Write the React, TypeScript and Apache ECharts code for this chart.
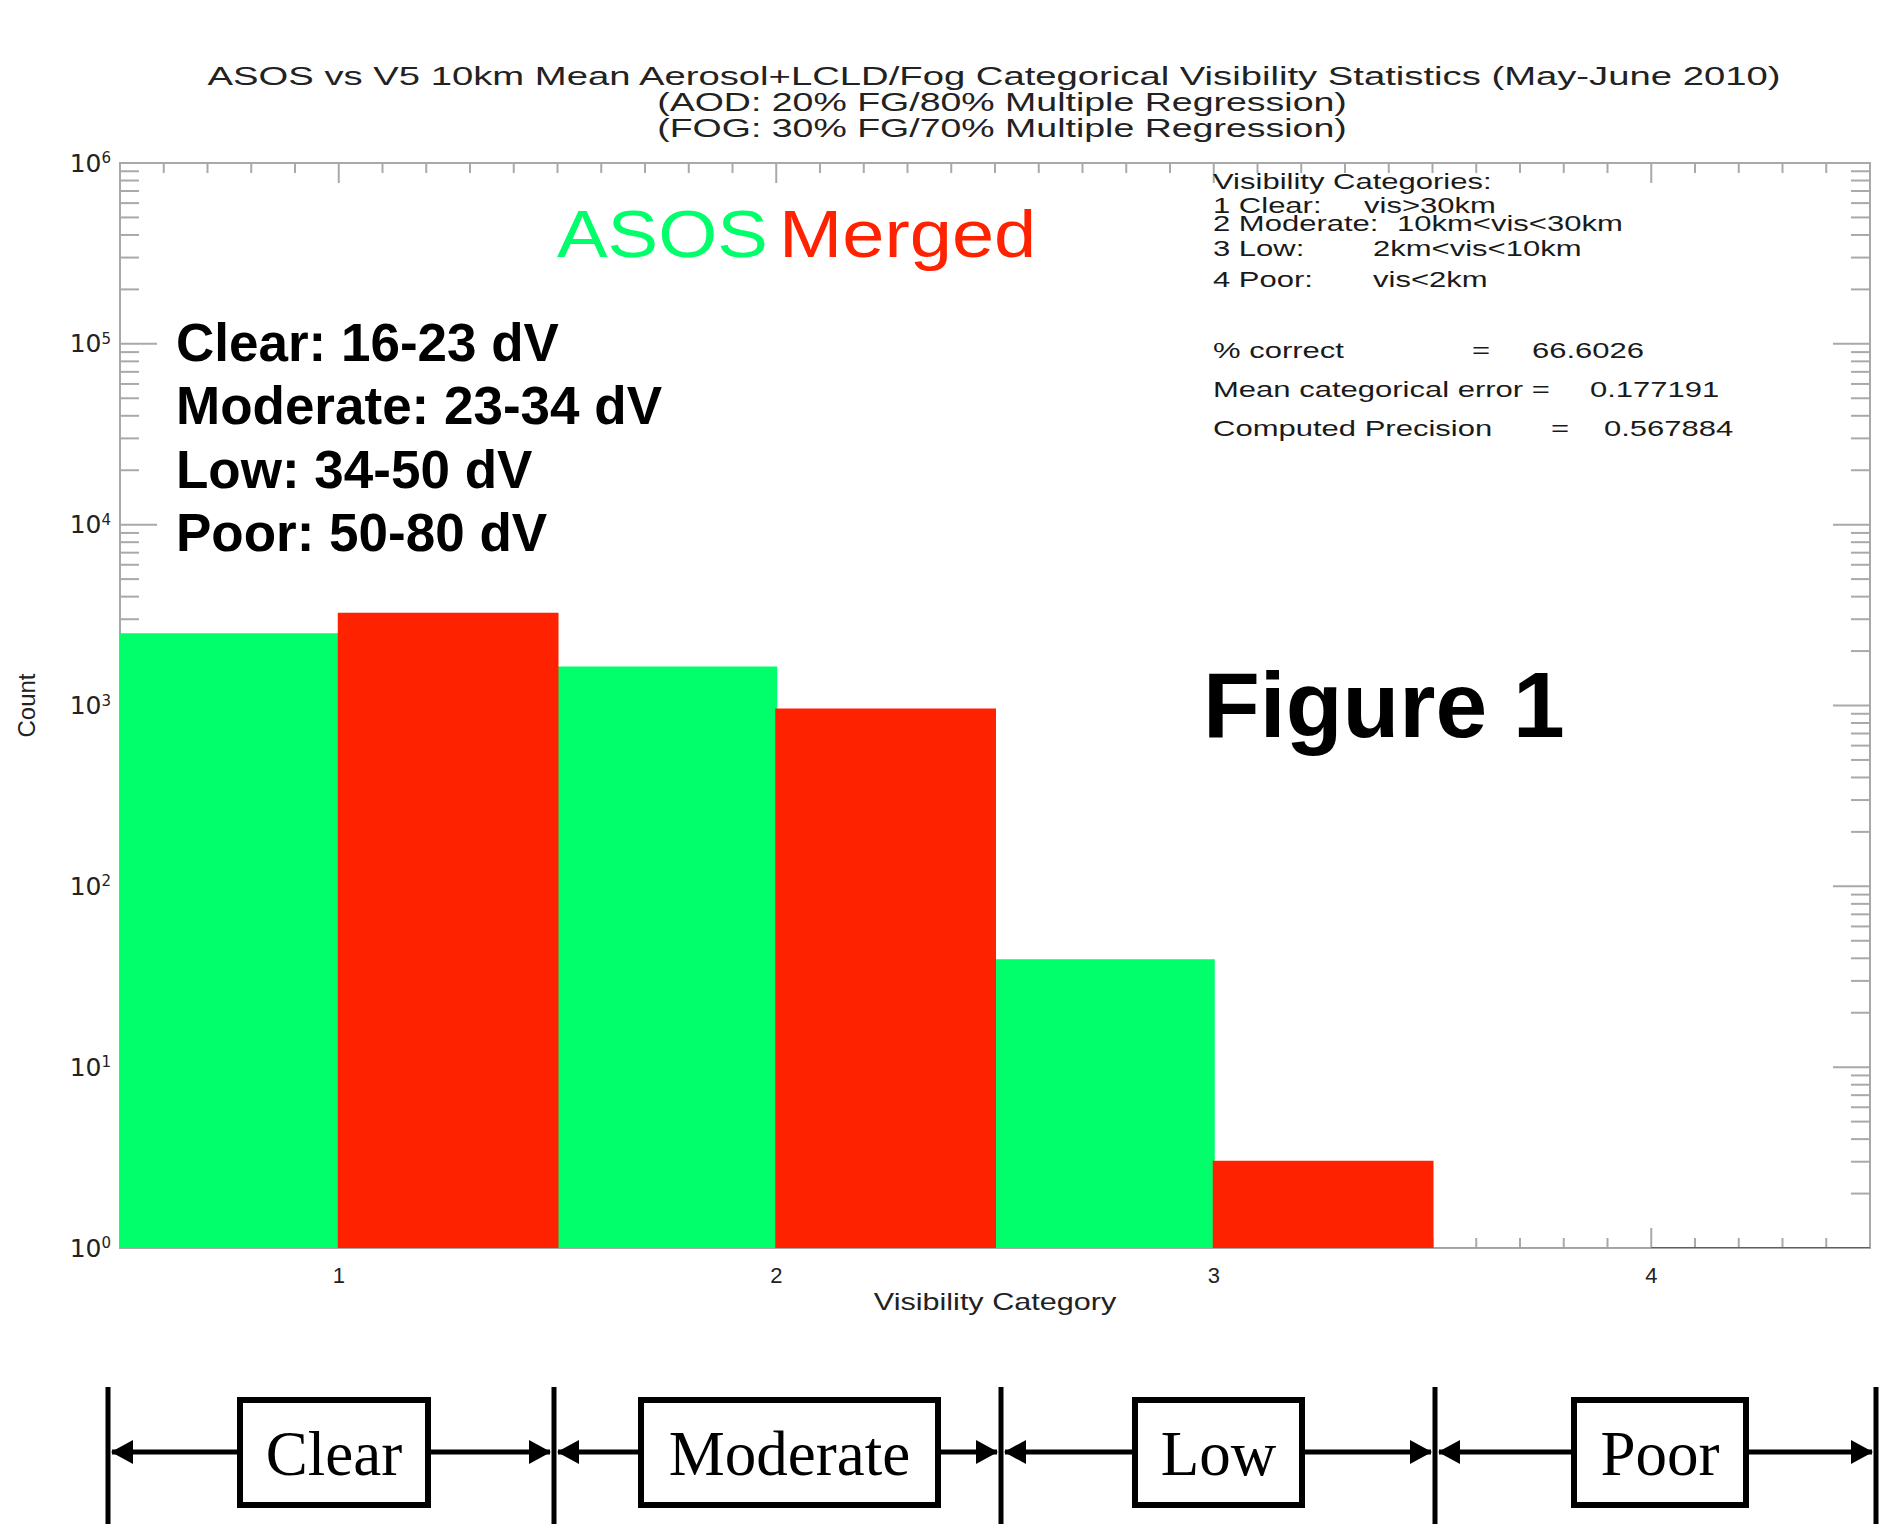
import React, { useEffect, useRef } from "react";
import * as echarts from "echarts";

// ---- data ----
const categories = [1, 2, 3, 4];
const asosCounts = [2480, 1620, 39, 1];
const mergedCounts = [3220, 950, 3, 1];
const yExponents = [0, 1, 2, 3, 4, 5, 6];
const xTickLabels = [1, 2, 3, 4];

const titleLines = [
  "ASOS vs V5 10km Mean Aerosol+LCLD/Fog Categorical Visibility Statistics (May-June 2010)",
  "(AOD: 20% FG/80% Multiple Regression)",
  "(FOG: 30% FG/70% Multiple Regression)",
];
const xAxisTitle = "Visibility Category";
const yAxisTitle = "Count";
const dvRanges = ["Clear: 16-23 dV", "Moderate: 23-34 dV", "Low: 34-50 dV", "Poor: 50-80 dV"];
const categoryNames = ["Clear", "Moderate", "Low", "Poor"];
const visCatLabels = ["1 Clear:", "2 Moderate:", "3 Low:", "4 Poor:"];
const visCatRanges = ["vis>30km", "10km<vis<30km", "2km<vis<10km", "vis<2km"];
const statLabels = ["% correct", "Mean categorical error =", "Computed Precision"];
const statEquals = ["=", "", "="];
const statValues = ["66.6026", "0.177191", "0.567884"];

const GREEN = "#00ff6a";
const RED = "#ff2200";
const AXIS = "#a9a9a9";
const TXT = "#1a1a1a";

export default function App() {
  const ref = useRef<HTMLDivElement>(null);

  useEffect(() => {
    const chart = echarts.init(ref.current!, undefined, { renderer: "svg" });

    const barSeries = (name: string, values: number[], color: string, offset: number) => ({
      type: "custom",
      name,
      z: 3,
      clip: true,
      encode: { x: 0, y: 1 },
      data: categories.map((c, i) => [c, values[i]]),
      renderItem: (params: any, api: any) => {
        const c = api.value(0);
        const v = api.value(1);
        const p0 = api.coord([c + offset, v]);
        const p1 = api.coord([c + offset + 0.5, 1]);
        return {
          type: "rect",
          shape: { x: p0[0], y: p0[1], width: p1[0] - p0[0], height: p1[1] - p0[1] },
          style: { fill: color, stroke: color, lineWidth: 2 },
        };
      },
    });

    const tickSeries = {
      type: "custom",
      name: "ticks",
      z: 1,
      clip: false,
      silent: true,
      encode: { x: 0, y: 1 },
      data: [[1, 1]],
      renderItem: (params: any, api: any) => {
        const cs = params.coordSys;
        const left = cs.x, right = cs.x + cs.width, top = cs.y, bottom = cs.y + cs.height;
        const children: any[] = [];
        const line = (x1: number, y1: number, x2: number, y2: number) =>
          children.push({ type: "line", shape: { x1, y1, x2, y2 }, style: { stroke: AXIS, lineWidth: 2 } });
        const xMin = xTickLabels[0] - 0.5;
        const xMax = xTickLabels[xTickLabels.length - 1] + 0.5;
        for (let t = Math.round(xMin * 10); t <= Math.round(xMax * 10); t++) {
          const x = api.coord([t / 10, 1])[0];
          const len = t % 10 === 0 ? 20 : 10;
          line(x, bottom, x, bottom - len);
          line(x, top, x, top + len);
        }
        for (let k = yExponents[0]; k <= yExponents[yExponents.length - 1]; k++) {
          for (let m = 1; m <= 9; m++) {
            const v = m * Math.pow(10, k);
            if (v > Math.pow(10, yExponents[yExponents.length - 1])) break;
            const y = api.coord([1, v])[1];
            const len = m === 1 ? 37 : 19;
            line(left, y, left + len, y);
            line(right, y, right - len, y);
          }
        }
        return { type: "group", children };
      },
    };

    const txt = (text: string, x: number, y: number, font: string, opts: any = {}) => ({
      type: "text",
      x,
      y,
      scaleX: opts.scaleX ?? 1,
      z: 10,
      style: {
        text,
        font,
        fill: opts.fill ?? TXT,
        textAlign: opts.align ?? "left",
        align: opts.align ?? "left",
        textVerticalAlign: "middle",
        verticalAlign: "middle",
      },
    });

    const graphics: any[] = [];
    // title
    const titleY = [76, 102, 128];
    const titleX = [994, 1002, 1002];
    const titleSX = [1.53, 1.5, 1.5];
    titleLines.forEach((t, i) =>
      graphics.push(txt(t, titleX[i], titleY[i], '25px "Liberation Sans"', { align: "center", scaleX: titleSX[i], fill: "#222" }))
    );
    // x axis title (letter-spaced like the reference)
    graphics.push(txt(xAxisTitle, 995, 1302, '23px "Liberation Sans"', { align: "center", scaleX: 1.33, fill: "#222" }));
    // ASOS Merged
    graphics.push(txt("ASOS", 557, 234, '66px "Liberation Sans"', { fill: GREEN, scaleX: 1.15 }));
    graphics.push(txt("Merged", 779, 234, '66px "Liberation Sans"', { fill: RED, scaleX: 1.15 }));
    // dV ranges
    const dvY = [342, 405, 469, 532];
    dvRanges.forEach((t, i) => graphics.push(txt(t, 176, dvY[i], 'bold 53px "Liberation Sans"', { fill: "#000" })));
    // Figure 1
    graphics.push(txt("Figure 1", 1203, 705, 'bold 93px "Liberation Sans"', { fill: "#000" }));
    // visibility categories block
    const smallFont = '22px "Liberation Sans"';
    const sx = 1.41;
    graphics.push(txt("Visibility Categories:", 1213, 182, smallFont, { scaleX: sx }));
    const vcY = [206, 224, 249, 280];
    const vcX = [1364, 1397, 1373, 1373];
    visCatLabels.forEach((t, i) => {
      graphics.push(txt(t, 1213, vcY[i], smallFont, { scaleX: sx }));
      graphics.push(txt(visCatRanges[i], vcX[i], vcY[i], smallFont, { scaleX: sx }));
    });
    const stY = [351, 390, 429];
    const stEqX = [1472, 0, 1551];
    const stValX = [1532, 1590, 1604];
    statLabels.forEach((t, i) => {
      graphics.push(txt(t, 1213, stY[i], smallFont, { scaleX: sx }));
      if (statEquals[i]) graphics.push(txt(statEquals[i], stEqX[i], stY[i], smallFont, { scaleX: sx }));
      graphics.push(txt(statValues[i], stValX[i], stY[i], smallFont, { scaleX: sx }));
    });

    // bottom category diagram
    const divX = [108, 554, 1001, 1435, 1876];
    const boxX0 = [240, 641, 1135, 1574];
    const boxX1 = [428, 938, 1302, 1746];
    const boxTop = 1400, boxBot = 1505, arrowY = 1452;
    divX.forEach((x) =>
      graphics.push({ type: "line", shape: { x1: x, y1: 1387, x2: x, y2: 1524 }, style: { stroke: "#000", lineWidth: 5 } })
    );
    const arrowHead = (tipX: number, dir: number) => ({
      type: "polygon",
      shape: { points: [[tipX, arrowY], [tipX - dir * 22, arrowY - 12], [tipX - dir * 22, arrowY + 12]] },
      style: { fill: "#000" },
    });
    categoryNames.forEach((n, i) => {
      graphics.push({
        type: "rect",
        shape: { x: boxX0[i], y: boxTop, width: boxX1[i] - boxX0[i], height: boxBot - boxTop },
        style: { fill: "#fff", stroke: "#000", lineWidth: 6 },
      });
      graphics.push(txt(n, (boxX0[i] + boxX1[i]) / 2, 1454, '63px "Liberation Serif"', { align: "center", fill: "#000" }));
      graphics.push({ type: "line", shape: { x1: divX[i] + 4, y1: arrowY, x2: boxX0[i], y2: arrowY }, style: { stroke: "#000", lineWidth: 5 } });
      graphics.push({ type: "line", shape: { x1: boxX1[i], y1: arrowY, x2: divX[i + 1] - 4, y2: arrowY }, style: { stroke: "#000", lineWidth: 5 } });
      graphics.push(arrowHead(divX[i] + 3, -1));
      graphics.push(arrowHead(divX[i + 1] - 3, 1));
    });

    chart.setOption({
      animation: false,
      backgroundColor: "#fff",
      grid: {
        left: 120,
        right: 10,
        top: 163,
        bottom: 276,
        show: true,
        borderColor: AXIS,
        borderWidth: 2,
        backgroundColor: "transparent",
      },
      xAxis: {
        type: "value",
        min: xTickLabels[0] - 0.5,
        max: xTickLabels[xTickLabels.length - 1] + 0.5,
        axisLine: { show: false },
        axisTick: { show: false },
        splitLine: { show: false },
        axisLabel: {
          margin: 16,
          fontFamily: "Liberation Sans",
          fontSize: 22,
          color: "#222",
          formatter: (v: number) => (xTickLabels.includes(v) ? String(v) : ""),
        },
      },
      yAxis: {
        type: "log",
        logBase: 10,
        min: Math.pow(10, yExponents[0]),
        max: Math.pow(10, yExponents[yExponents.length - 1]),
        splitNumber: yExponents.length - 1,
        name: yAxisTitle,
        nameLocation: "middle",
        nameGap: 82,
        nameTextStyle: { fontFamily: "Liberation Sans", fontSize: 24, color: "#222" },
        axisLine: { show: false },
        axisTick: { show: false },
        splitLine: { show: false },
        axisLabel: {
          margin: 9,
          formatter: (v: number) => `{b|10}{s|${Math.round(Math.log10(v))}}`,
          rich: {
            b: { fontFamily: "DejaVu Sans", fontSize: 25, color: "#222" },
            s: { fontFamily: "DejaVu Sans", fontSize: 15, color: "#222", verticalAlign: "top", lineHeight: 15 },
          },
        },
      },
      series: [tickSeries, barSeries("ASOS", asosCounts, GREEN, -0.5), barSeries("Merged", mergedCounts, RED, 0)],
      graphic: graphics,
    });

    return () => chart.dispose();
  }, []);

  return (
    <div
      ref={ref}
      style={{ position: "absolute", left: 0, top: 0, width: 1880, height: 1524, background: "#fff" }}
    />
  );
}
